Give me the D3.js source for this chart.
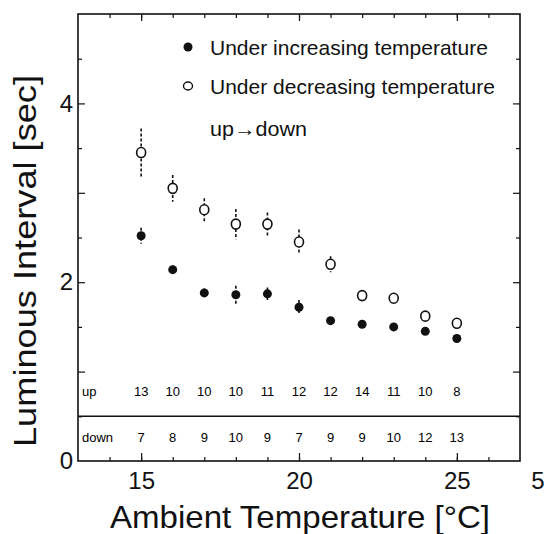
<!DOCTYPE html>
<html>
<head>
<meta charset="utf-8">
<script src="https://cdn.jsdelivr.net/npm/d3@7"></script>
<style>
  body { margin: 0; background: #fff; }
  svg { font-family: "Liberation Sans", Arial, Helvetica, sans-serif; }
</style>
</head>
<body>
<div id="chart"></div>
<script>
// data
const temps = [15, 16, 17, 18, 19, 20, 21, 22, 23, 24, 25];
const upMean = [2.52, 2.14, 1.88, 1.86, 1.87, 1.72, 1.57, 1.53, 1.50, 1.45, 1.37];
const upErr = [0.09, 0.05, 0.05, 0.10, 0.07, 0.08, 0.03, 0.03, 0.04, 0.04, 0.03];
const downMean = [3.45, 3.05, 2.81, 2.65, 2.65, 2.45, 2.20, 1.85, 1.82, 1.62, 1.54];
const downErr = [0.27, 0.15, 0.13, 0.17, 0.13, 0.14, 0.09, 0.03, 0.04, 0.04, 0.03];
const upN = [13, 10, 10, 10, 11, 12, 12, 14, 11, 10, 8];
const downN = [7, 8, 9, 10, 9, 7, 9, 9, 10, 12, 13];
const xMajor = [15, 20, 25];
const yLabels = [0, 2, 4];

const width = 555, height = 534;
const x = d3.scaleLinear().domain([13, 27]).range([78, 520]);
const y = d3.scaleLinear().domain([0, 5]).range([461, 14]);

const svg = d3.select("#chart").append("svg")
    .attr("width", width)
    .attr("height", height);

const xMinor = d3.range(14, 27);
const yMinor = d3.range(0.5, 5, 1);
const yMajor = d3.range(1, 5);

// inward ticks on all four sides
function ticks(g, axis) {
  g.call(axis);
  g.select(".domain").remove();
  g.selectAll("line").attr("stroke", "#111").attr("stroke-width", 1.2);
}

svg.append("g").attr("transform", `translate(0,${y(0)})`)
    .call(g => ticks(g, d3.axisBottom(x).tickValues(xMinor).tickSize(-4).tickFormat("")));
svg.append("g").attr("transform", `translate(0,${y(0)})`)
    .call(g => ticks(g, d3.axisBottom(x).tickValues(xMajor).tickSize(-8).tickPadding(11).tickFormat(d3.format("d"))))
    .selectAll("text").attr("font-size", 24).attr("fill", "#111")
    .attr("font-family", "'Liberation Sans', Arial, sans-serif");
svg.append("g").attr("transform", `translate(0,${y(5)})`)
    .call(g => ticks(g, d3.axisTop(x).tickValues(xMinor).tickSize(-4).tickFormat("")));
svg.append("g").attr("transform", `translate(0,${y(5)})`)
    .call(g => ticks(g, d3.axisTop(x).tickValues(xMajor).tickSize(-7).tickFormat("")));

svg.append("g").attr("transform", `translate(${x(13)},0)`)
    .call(g => ticks(g, d3.axisLeft(y).tickValues(yMinor).tickSize(-4).tickFormat("")));
svg.append("g").attr("transform", `translate(${x(13)},0)`)
    .call(g => ticks(g, d3.axisLeft(y).tickValues(yMajor).tickSize(-7).tickFormat("")));
svg.append("g").attr("transform", `translate(${x(13)},0)`)
    .call(g => ticks(g, d3.axisLeft(y).tickValues(yLabels).tickSize(0).tickPadding(5).tickFormat(d3.format("d"))))
    .selectAll("text").attr("font-size", 24).attr("fill", "#111")
    .attr("font-family", "'Liberation Sans', Arial, sans-serif");
svg.append("g").attr("transform", `translate(${x(27)},0)`)
    .call(g => ticks(g, d3.axisRight(y).tickValues(yMinor).tickSize(-4).tickFormat("")));
svg.append("g").attr("transform", `translate(${x(27)},0)`)
    .call(g => ticks(g, d3.axisRight(y).tickValues(yMajor).tickSize(-7).tickFormat("")));

// frame
svg.append("rect")
    .attr("x", x(13)).attr("y", y(5))
    .attr("width", x(27) - x(13)).attr("height", y(0) - y(5))
    .attr("fill", "none").attr("stroke", "#111").attr("stroke-width", 1.6);

// stray "5" beyond the right edge
svg.append("text").attr("x", 538).attr("y", y(0) + 28)
    .attr("text-anchor", "middle").attr("font-size", 24).attr("fill", "#111").text("5");

// table of counts
svg.append("line")
    .attr("x1", x(13)).attr("x2", x(27))
    .attr("y1", y(0.5)).attr("y2", y(0.5))
    .attr("stroke", "#111").attr("stroke-width", 1.4);
svg.append("text").attr("x", x(13) + 4).attr("y", y(0.73)).attr("font-size", 13).text("up");
svg.append("text").attr("x", x(13) + 4).attr("y", y(0.21)).attr("font-size", 13).text("down");
svg.selectAll(".nUp").data(temps).join("text")
    .attr("x", d => x(d)).attr("y", y(0.73))
    .attr("text-anchor", "middle").attr("font-size", 13)
    .text((d, i) => upN[i]);
svg.selectAll(".nDown").data(temps).join("text")
    .attr("x", d => x(d)).attr("y", y(0.21))
    .attr("text-anchor", "middle").attr("font-size", 13)
    .text((d, i) => downN[i]);

// error bars
function bars(mean, err) {
  svg.append("g").selectAll("line").data(temps).join("line")
      .attr("x1", d => x(d)).attr("x2", d => x(d))
      .attr("y1", (d, i) => y(mean[i] + err[i]))
      .attr("y2", (d, i) => y(mean[i] - err[i]))
      .attr("stroke", "#111").attr("stroke-width", 1.6)
      .attr("stroke-dasharray", "3,2");
}
bars(downMean, downErr);
bars(upMean, upErr);

svg.append("g").selectAll("ellipse").data(temps).join("ellipse")
    .attr("cx", d => x(d)).attr("cy", (d, i) => y(downMean[i]))
    .attr("rx", 4.5).attr("ry", 5)
    .attr("fill", "#fff").attr("stroke", "#111").attr("stroke-width", 1.6);
svg.append("g").selectAll("circle").data(temps).join("circle")
    .attr("cx", d => x(d)).attr("cy", (d, i) => y(upMean[i]))
    .attr("r", 4.5).attr("fill", "#111");

// legend
svg.append("circle").attr("cx", 188).attr("cy", 47).attr("r", 4.5).attr("fill", "#111");
svg.append("text").attr("x", 210).attr("y", 55).attr("font-size", 21).attr("fill", "#111")
    .text("Under increasing temperature");
svg.append("ellipse").attr("cx", 188).attr("cy", 86).attr("rx", 4.5).attr("ry", 4)
    .attr("fill", "#fff").attr("stroke", "#111").attr("stroke-width", 1.4);
svg.append("text").attr("x", 210).attr("y", 94).attr("font-size", 21).attr("fill", "#111")
    .text("Under decreasing temperature");
svg.append("text").attr("x", 210).attr("y", 136).attr("font-size", 20).attr("fill", "#111")
    .attr("textLength", 97).attr("lengthAdjust", "spacingAndGlyphs")
    .text("up\u2192down");

// axis titles
svg.append("text")
    .attr("x", 300).attr("y", 528)
    .attr("text-anchor", "middle").attr("font-size", 32).attr("fill", "#111")
    .attr("textLength", 380).attr("lengthAdjust", "spacingAndGlyphs")
    .text("Ambient Temperature [\u00b0C]");
svg.append("text")
    .attr("transform", "translate(36,261) rotate(-90)")
    .attr("text-anchor", "middle").attr("font-size", 32).attr("fill", "#111")
    .attr("textLength", 372).attr("lengthAdjust", "spacingAndGlyphs")
    .text("Luminous Interval [sec]");
</script>
</body>
</html>
